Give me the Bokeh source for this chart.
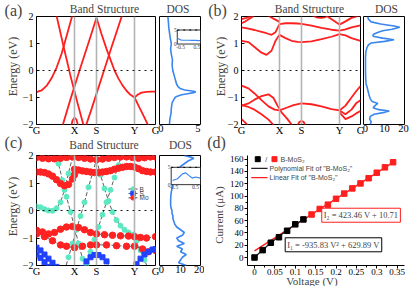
import numpy as np
from bokeh.plotting import figure
from bokeh.layouts import row, column
from bokeh.models import Span, Label, FixedTicker, CustomJSTickFormatter, Range1d
from bokeh.embed import file_html
from bokeh.resources import INLINE

SERIF = "Liberation Serif"
SANS = "Liberation Sans"

K_TICKS = [0, 38, 60, 98, 119]
K_LABELS = ["G", "X", "S", "Y", "G"]
E_TICKS = [-2, -1, 0, 1, 2]

# ---------------- panel (a): band lines (k along path, E in eV)
A1_K = [0, 5, 10, 15, 20, 25, 28, 31, 34, 37]
A1_E = [-0.8, -0.74, -0.57, -0.29, 0.1, 0.61, 1.0, 1.4, 1.8, 2.2]
A2_K = [19, 27, 34, 41, 49]
A2_E = [2.2, 0.9, -0.2, -1.2, -2.3]
A3_K = [24, 34, 43, 53, 60]
A3_E = [-2.3, -1.06, 0.0, 1.14, 1.95]
A4_K = [60, 65, 70, 75, 78, 82, 86, 90, 94, 98]
A4_E = [1.95, 1.35, 0.8, 0.3, 0.0, -0.3, -0.55, -0.75, -0.9, -1.0]
A5_K = [98, 101, 105, 110, 115, 119]
A5_E = [-1.0, -0.9, -0.82, -0.79, -0.78, -0.78]
A6_K = [98, 102, 106, 110, 114]
A6_E = [-1.0, -1.3, -1.6, -1.9, -2.2]
A7_K = [48, 55, 65, 75, 87]
A7_E = [-2.2, -1.43, -0.29, 0.86, 2.2]
A8_K = [34, 36, 38, 40, 42]
A8_E = [-2.2, -1.85, -1.75, -1.82, -2.1]

A_DOS_E = [-2.0, -1.8, -1.6, -1.4, -1.2, -1.1, -1.0, -0.95, -0.9, -0.86, -0.82, -0.79, -0.76,
           -0.72, -0.67, -0.6, -0.5, -0.4, -0.3, -0.2, -0.1, 0.0, 0.2, 0.4, 0.6, 0.8, 1.0,
           1.2, 1.4, 1.6, 1.8, 2.0]
A_DOS = [1.15, 1.2, 1.35, 1.4, 1.5, 1.7, 1.9, 2.2, 2.8, 3.6, 4.4, 4.7, 4.2, 3.2, 2.6, 2.3,
         2.1, 2.0, 1.9, 1.8, 1.7, 1.6, 1.5, 1.55, 1.4, 1.3, 1.4, 1.25, 1.15, 1.05, 1.0, 0.93]
A_INSET_X = [-0.7, -0.6, -0.5, -0.4, -0.2, 0.0, 0.2, 0.4, 0.6, 0.7]
A_INSET_Y = [2.1, 1.8, 1.5, 1.4, 1.35, 1.35, 1.3, 1.3, 1.25, 1.2]

# ---------------- panel (b)
B_C1_K = [0, 7, 13, 20, 25, 30, 34, 38, 44, 50, 56, 60, 70, 80, 90, 98, 104, 110, 119]
B_C1_E = [1.1, 1.05, 0.87, 0.66, 0.58, 0.73, 1.1, 1.32, 1.2, 1.1, 1.06, 1.05, 1.08, 1.16,
          1.25, 1.35, 1.3, 1.2, 1.1]
B_C2_K = [0, 7, 13, 20, 25, 30, 34, 38, 44, 50, 56, 60, 70, 80, 90, 98, 104, 110, 119]
B_C2_E = [1.6, 1.55, 1.5, 1.43, 1.38, 1.32, 1.42, 1.72, 1.75, 1.75, 1.74, 1.73, 1.66, 1.58,
          1.51, 1.48, 1.52, 1.6, 1.67]
B_C3_K = [0, 5, 10, 15, 20, 26, 32, 38]
B_C3_E = [1.9, 1.95, 2.02, 2.1, 2.15, 2.05, 1.92, 1.8]
B_C4_K = [0, 4, 8, 12, 16]
B_C4_E = [1.75, 1.82, 1.92, 2.02, 2.12]
B_C5_K = [80, 86, 92, 98, 104, 110, 119]
B_C5_E = [2.15, 2.0, 1.85, 1.7, 1.82, 1.95, 2.05]
B_C6_K = [68, 72, 76, 80, 84, 88]
B_C6_E = [2.1, 2.02, 1.96, 1.95, 1.98, 2.06]
B_V1_K = [0, 7, 13, 20, 27, 33, 38, 45, 52, 60, 70, 80, 90, 98, 104, 110, 115, 119]
B_V1_E = [-0.56, -0.66, -0.85, -1.1, -1.33, -1.45, -1.48, -1.38, -1.28, -1.22, -1.25, -1.33,
          -1.43, -1.48, -1.3, -1.0, -0.75, -0.58]
B_V2_K = [0, 7, 13, 20, 27, 32, 36, 40, 46, 52]
B_V2_E = [-1.3, -1.22, -1.08, -0.95, -0.88, -1.02, -1.3, -1.55, -1.8, -2.1]
B_V3_K = [0, 7, 13, 20, 27, 34]
B_V3_E = [-1.28, -1.35, -1.45, -1.62, -1.82, -2.1]
B_V4_K = [0, 3, 6, 9]
B_V4_E = [-1.8, -1.9, -2.02, -2.15]
B_V5_K = [55, 58, 60, 62, 65]
B_V5_E = [-2.1, -1.9, -1.87, -1.9, -2.1]
B_V6_K = [98, 104, 110, 115, 119]
B_V6_E = [-1.48, -1.62, -1.45, -1.2, -1.1]
B_V7_K = [98, 104, 110, 115, 119]
B_V7_E = [-1.55, -1.8, -1.7, -1.58, -1.5]

B_DOS_E = [-2.0, -1.9, -1.8, -1.7, -1.62, -1.55, -1.5, -1.45, -1.38, -1.3, -1.22, -1.15, -1.05,
           -0.9, -0.75, -0.6, -0.5, -0.3, 0.0, 0.3, 0.5, 0.7, 0.85, 0.95, 1.02, 1.08, 1.14,
           1.2, 1.27, 1.33, 1.4, 1.47, 1.53, 1.6, 1.65, 1.72, 1.8, 1.9, 2.0]
B_DOS = [2.5, 3.0, 2.2, 2.5, 4.5, 10.0, 12.5, 7.0, 4.0, 5.0, 6.5, 3.5, 2.5, 1.8, 1.3, 0.8, 0.3,
         0.1, 0.0, 0.0, 0.0, 0.2, 0.8, 1.5, 3.0, 10.0, 15.0, 9.0, 4.0, 4.0, 6.0, 9.0, 14.0,
         18.0, 15.0, 8.0, 3.0, 1.5, 1.2]

# ---------------- panel (c): projected bands (B, S, Mo character)
C_B1_K = [0, 4, 8, 12, 16, 20, 24, 28, 32, 36]
C_B1_E = [0.15, 0.12, 0.05, 0.0, -0.01, 0.08, 0.3, 0.75, 1.35, 1.95]
C_B2_K = [18, 22, 26, 30, 34, 38, 42, 46, 50]
C_B2_E = [2.3, 1.7, 1.1, 0.5, -0.05, -0.6, -1.2, -1.75, -2.3]
C_B3_K = [28, 32, 36, 40, 44, 48, 52, 56, 60]
C_B3_E = [-2.2, -1.7, -1.2, -0.7, -0.2, 0.3, 0.85, 1.35, 1.85]
C_B4_K = [60, 64, 68, 72, 76, 80, 84, 88, 92, 97]
C_B4_E = [1.85, 1.3, 0.8, 0.35, -0.05, -0.35, -0.55, -0.7, -0.8, -0.88]
C_B5_K = [46, 50, 54, 58, 62, 66, 70, 74, 78, 82, 86]
C_B5_E = [-2.4, -1.95, -1.5, -1.05, -0.6, -0.15, 0.3, 0.75, 1.2, 1.65, 2.1]
C_B6_K = [97, 100, 104, 108, 112]
C_B6_E = [-0.88, -1.1, -1.45, -1.8, -2.15]
C_M1_K = [0, 4, 8, 12, 16, 20, 24, 28, 32, 36, 38]
C_M1_E = [1.4, 1.4, 1.38, 1.33, 1.25, 1.12, 0.98, 0.9, 0.95, 1.15, 1.3]
C_M2_K = [38, 42, 46, 50, 54, 58, 62, 66, 70, 74, 78, 82, 86, 90, 94, 98, 102, 106, 110, 114, 119]
C_M2_E = [1.5, 1.47, 1.44, 1.42, 1.4, 1.38, 1.38, 1.4, 1.42, 1.45, 1.5, 1.54, 1.57, 1.6, 1.6,
          1.58, 1.52, 1.45, 1.42, 1.4, 1.4]
C_M3_K = [0, 6, 12, 18, 24, 30, 36, 42, 48, 54, 60, 66, 72, 78, 84, 90, 96, 102, 108, 114, 119]
C_M3_E = [1.93, 1.9, 1.88, 1.88, 1.9, 1.93, 1.95, 1.93, 1.9, 1.87, 1.85, 1.87, 1.9, 1.93, 1.95,
          1.95, 1.93, 1.9, 1.92, 1.95, 1.95]
C_M4_K = [0, 6, 12, 18, 24, 30, 36, 42, 48, 54, 60, 68, 76, 84, 92, 98, 104, 110, 119]
C_M4_E = [-0.72, -0.78, -0.85, -0.8, -0.68, -0.6, -0.58, -0.62, -0.7, -0.8, -0.85, -0.88, -0.9,
          -0.92, -0.93, -0.95, -0.98, -1.0, -0.95]
C_M5_K = [0, 8, 16, 24, 30, 38, 46, 54, 60, 70, 80, 90, 98, 106, 112, 119]
C_M5_E = [-0.85, -0.95, -1.1, -1.25, -1.3, -1.35, -1.3, -1.25, -1.25, -1.25, -1.28, -1.3, -1.3,
          -1.4, -1.5, -1.45]
C_S1_K = [0, 4, 8, 12, 16, 20]
C_S1_E = [-1.35, -1.45, -1.6, -1.75, -1.9, -2.05]
C_S2_K = [0, 4, 8, 12]
C_S2_E = [-1.6, -1.72, -1.88, -2.05]
C_S3_K = [46, 50, 54, 58, 62, 66, 70, 74]
C_S3_E = [-2.1, -1.85, -1.7, -1.62, -1.62, -1.7, -1.85, -2.1]
C_S4_K = [100, 104, 108, 112, 116, 119]
C_S4_E = [-1.95, -1.75, -1.6, -1.5, -1.42, -1.4]

C_DOS_E = [-2.0, -1.9, -1.8, -1.7, -1.6, -1.5, -1.4, -1.3, -1.2, -1.1, -1.0, -0.9, -0.8, -0.7,
           -0.6, -0.5, -0.4, -0.3, -0.2, -0.1, 0.0, 0.1, 0.2, 0.4, 0.6, 0.8, 1.0, 1.2, 1.3, 1.4,
           1.5, 1.6, 1.7, 1.8, 1.9, 1.95, 2.0]
C_DOS = [13, 9, 10, 11, 13, 10, 11, 8, 12, 9, 8, 11, 12, 10, 8, 7, 6.5, 6, 6, 5.5, 5.5, 5, 4.8,
         4.8, 5, 5.5, 6, 7, 8, 8.5, 9, 10, 12, 14, 17, 15, 12]
C_INSET_X = [-0.56, -0.33, -0.1, 0.05, 0.2, 0.35, 0.5, 0.73]
C_INSET_Y = [1.2, 1.7, 3.1, 3.4, 2.6, 1.9, 2.2, 1.9]

# ---------------- panel (d): I-V
V_BLACK = [0.0, 0.02, 0.04, 0.06, 0.08, 0.10, 0.12]
I_BLACK = [0.0, 12.0, 24.0, 33.0, 43.5, 54.0, 62.0]
V_RED = [0.14, 0.16, 0.18, 0.20, 0.22, 0.24, 0.26, 0.28, 0.30, 0.32, 0.34]
I_RED = [70.0, 79.0, 86.0, 95.5, 104.0, 112.5, 120.6, 129.0, 138.0, 146.7, 155.0]
LIN_SLOPE, LIN_ICPT = 423.46, 10.71
POLY_A2, POLY_A1 = -935.83, 629.89
V_TICKS = [0, 0.05, 0.1, 0.15, 0.2, 0.25, 0.3, 0.35]
I_TICKS = [0, 20, 40, 60, 80, 100, 120, 140, 160]

RED = "#ff1f1f"
DOSBLUE = "#3a86f0"
AQUA = "#5ee8c2"
SBLUE = "#2142ff"
MORED = "#ff2222"


def base(p):
    p.border_fill_alpha = 0
    p.background_fill_color = "white"
    p.outline_line_color = "black"
    p.outline_line_width = 1
    p.xgrid.visible = False
    p.ygrid.visible = False
    for ax in p.axis:
        ax.major_label_text_font = SERIF
        ax.major_label_text_font_size = "10px"
        ax.major_label_text_color = "black"
        ax.axis_line_color = None
        ax.minor_tick_line_color = None
        ax.minor_tick_in = 0
        ax.minor_tick_out = 0


kmap = "{" + ",".join(f"{k}:'{l}'" for k, l in zip(K_TICKS, K_LABELS)) + "}"


def band_fig(width, height, bl, bt, bb):
    p = figure(width=width, height=height, x_range=Range1d(0, 119), y_range=Range1d(-2, 2),
               output_backend="svg", toolbar_location=None,
               min_border_left=bl, min_border_right=8,
               min_border_top=bt, min_border_bottom=bb)
    base(p)
    p.xaxis.ticker = FixedTicker(ticks=K_TICKS)
    p.xaxis.formatter = CustomJSTickFormatter(code=f"const m={kmap}; return (tick in m) ? m[tick] : '';")
    p.xaxis.major_tick_in = 0
    p.xaxis.major_tick_out = 0
    p.xaxis.major_label_standoff = 0
    p.xaxis.major_label_text_font_size = "10.5px"
    p.yaxis.ticker = FixedTicker(ticks=E_TICKS)
    p.yaxis.major_tick_in = 3
    p.yaxis.major_tick_out = 0
    p.yaxis.major_label_standoff = 3
    for k in K_TICKS[1:-1]:
        p.add_layout(Span(location=k, dimension="height", line_color="#b4b4b4", line_width=1.6))
    p.add_layout(Span(location=0, dimension="width", line_color="black", line_width=0.9,
                      line_dash="dotted"))
    return p


def dos_fig(width, height, bt, bb, xr, ticks, bl, br):
    p = figure(width=width, height=height, x_range=Range1d(*xr), y_range=Range1d(-2, 2),
               output_backend="svg", toolbar_location=None,
               min_border_left=bl, min_border_right=br, min_border_top=bt, min_border_bottom=bb)
    base(p)
    p.yaxis.visible = False
    p.xaxis.ticker = FixedTicker(ticks=ticks)
    p.xaxis.major_tick_in = 0
    p.xaxis.major_tick_out = 0
    p.xaxis.major_label_standoff = 0
    p.xaxis.major_label_text_font_size = "10.5px"
    return p


def add_inset(p, xs, ys, box, xlim, ylim):
    # box = (x0, x1, y0, y1) in host data coords; xlim/ylim: inset data limits
    x0, x1, y0, y1 = box
    sx = (x1 - x0) / (xlim[1] - xlim[0])
    sy = (y1 - y0) / (ylim[1] - ylim[0])
    mx = [x0 + (v - xlim[0]) * sx for v in xs]
    my = [y0 + (v - ylim[0]) * sy for v in ys]
    p.quad(left=[x0], right=[x1], bottom=[y0], top=[y1], fill_color="white",
           line_color="black", line_width=0.8)
    p.line([x0, x1], [y1, y1], line_color="black", line_dash="dotted", line_width=1)
    p.line(mx, my, line_color=DOSBLUE, line_width=1.2)
    for t in [0, 5]:
        p.add_layout(Label(x=x0 - 0.02 * (xlim[1] - xlim[0]) * sx, y=y0 + (t - ylim[0]) * sy,
                           text=str(t), text_font=SERIF, text_font_size="5.5px",
                           text_align="right", text_baseline="middle"))
    for t in [-0.5, 0.5]:
        p.add_layout(Label(x=x0 + (t - xlim[0]) * sx, y=y0 - 0.03, text=str(t), text_font=SERIF,
                           text_font_size="5.5px", text_align="center", text_baseline="top"))


# ================= (a)
pa = band_fig(163, 143, 36, 16, 19)
for k, e in [(A1_K, A1_E), (A2_K, A2_E), (A3_K, A3_E), (A4_K, A4_E), (A5_K, A5_E),
             (A6_K, A6_E), (A7_K, A7_E), (A8_K, A8_E)]:
    pa.line(k, e, line_color=RED, line_width=1.8)

pad = dos_fig(47, 143, 16, 19, (-0.2, 5.34), [0, 5], 2, 4)
pad.margin = (0, 0, 0, -6)
pad.line(A_DOS, A_DOS_E, line_color=DOSBLUE, line_width=1.6)
add_inset(pad, A_INSET_X, A_INSET_Y, (2.2, 5.34, 0.98, 1.5), (-0.7, 0.72), (0, 5))

# ================= (b)
pb = band_fig(164, 143, 37, 16, 19)
for k, e in [(B_C1_K, B_C1_E), (B_C2_K, B_C2_E), (B_C3_K, B_C3_E), (B_C4_K, B_C4_E),
             (B_C5_K, B_C5_E), (B_C6_K, B_C6_E), (B_V1_K, B_V1_E), (B_V2_K, B_V2_E),
             (B_V3_K, B_V3_E), (B_V4_K, B_V4_E), (B_V5_K, B_V5_E), (B_V6_K, B_V6_E),
             (B_V7_K, B_V7_E)]:
    pb.line(k, e, line_color=RED, line_width=1.8)

pbd = dos_fig(47, 143, 16, 19, (-1.05, 20.5), [0, 10, 20], 1, 5)
pbd.margin = (0, 0, 0, -6)
pbd.line(B_DOS, B_DOS_E, line_color=DOSBLUE, line_width=1.6)

# ================= (c)
pc = band_fig(163, 153, 36, 20, 21)
pc.margin = (-10, 0, 0, 0)
bands_c = [
    (C_B1_K, C_B1_E, "B"), (C_B2_K, C_B2_E, "B"), (C_B3_K, C_B3_E, "B"), (C_B4_K, C_B4_E, "B"),
    (C_B5_K, C_B5_E, "B"), (C_B6_K, C_B6_E, "B"),
    (C_M1_K, C_M1_E, "Mo"), (C_M2_K, C_M2_E, "Mo"), (C_M3_K, C_M3_E, "Mo"),
    (C_M4_K, C_M4_E, "Mo"), (C_M5_K, C_M5_E, "Mo"),
    (C_S1_K, C_S1_E, "S"), (C_S2_K, C_S2_E, "S"), (C_S3_K, C_S3_E, "S"), (C_S4_K, C_S4_E, "S"),
]
style_c = {"B": (AQUA, "circle", 5), "S": (SBLUE, "square", 5), "Mo": (MORED, "circle", 6.5)}
for k, e, ch in bands_c:
    pc.line(k, e, line_color="#333333", line_width=0.8, line_dash="4 2")
for k, e, ch in bands_c:
    col, mk, sz = style_c[ch]
    pc.scatter(k, e, marker=mk, size=sz, fill_color=col, line_color=col)
for i, ch in enumerate(["B", "S", "Mo"]):
    col, mk, sz = style_c[ch]
    yy = 0.78 - 0.16 * i
    pc.line([92, 101], [yy, yy], line_color="#222222", line_width=0.8)
    pc.scatter([96.5], [yy], marker=mk, size=4.5, fill_color=col, line_color=col)
    pc.add_layout(Label(x=103, y=yy, text=ch, text_font=SANS, text_font_size="6.5px",
                        text_baseline="middle"))

pcd = dos_fig(47, 153, 20, 21, (-1.05, 20.5), [0, 10, 20], 2, 4)
pcd.margin = (-10, 0, 0, -6)
pcd.line(C_DOS, C_DOS_E, line_color=DOSBLUE, line_width=1.6)
add_inset(pcd, C_INSET_X, C_INSET_Y, (5.1, 20.5, 0.94, 1.57), (-0.62, 0.73), (0, 5))

# ================= (d)
pd_ = figure(width=205, height=153, x_range=Range1d(-0.0172, 0.368), y_range=Range1d(-13, 166),
             output_backend="svg", toolbar_location=None,
             min_border_left=43, min_border_right=5, min_border_top=22, min_border_bottom=21)
pd_.margin = (-10, 0, 0, 0)
base(pd_)
pd_.outline_line_color = None
for ax in pd_.axis:
    ax.axis_line_color = "black"
    ax.axis_line_width = 1
    ax.major_tick_in = 0
    ax.major_tick_out = 3
    ax.minor_tick_line_color = "black"
    ax.minor_tick_in = 0
    ax.minor_tick_out = 2
    ax.major_label_text_font_size = "9px"
pd_.xaxis.major_label_standoff = 0
pd_.yaxis.major_label_standoff = 1
pd_.xaxis.ticker = FixedTicker(ticks=V_TICKS, minor_ticks=[0.025, 0.075, 0.125, 0.175, 0.225,
                                                          0.275, 0.325])
pd_.xaxis.formatter = CustomJSTickFormatter(code="return String(parseFloat(tick.toFixed(2)));")
pd_.yaxis.ticker = FixedTicker(ticks=I_TICKS, minor_ticks=[10, 30, 50, 70, 90, 110, 130, 150])

v_lin = np.array([0.0, max(V_RED)])
pd_.line(v_lin, LIN_SLOPE * v_lin + LIN_ICPT, line_color=RED, line_width=1.5)
v_poly = np.linspace(0, max(V_BLACK), 30)
pd_.line(v_poly, POLY_A2 * v_poly ** 2 + POLY_A1 * v_poly, line_color="#222222", line_width=1.3)
pd_.scatter(V_BLACK, I_BLACK, marker="square", size=5.5, fill_color="black", line_color="black")
pd_.scatter(V_RED, I_RED, marker="square", size=5.5, fill_color=RED, line_color=RED)

pd_.scatter([0.008], [160], marker="square", size=5, fill_color="black", line_color="black")
pd_.add_layout(Label(x=0.029, y=160, text="/", text_font=SANS, text_font_size="7px",
                     text_align="center", text_baseline="middle"))
pd_.scatter([0.049], [160], marker="square", size=5, fill_color=RED, line_color=RED)
pd_.add_layout(Label(x=0.064, y=160, text="B-MoS\u2082", text_font=SANS, text_font_size="7px",
                     text_baseline="middle"))
pd_.line([-0.008, 0.032], [145, 145], line_color="#222222", line_width=1.2)
pd_.add_layout(Label(x=0.037, y=145, text="Polynomial Fit of \"B-MoS\u2082\"", text_font=SANS,
                     text_font_size="7px", text_baseline="middle"))
pd_.line([-0.008, 0.032], [130, 130], line_color=RED, line_width=1.2)
pd_.add_layout(Label(x=0.037, y=130, text="Linear Fit of \"B-MoS\u2082\"", text_font=SANS,
                     text_font_size="7px", text_baseline="middle"))

pd_.add_layout(Label(x=0.165, y=68.8, text="I\u2082 = 423.46 V + 10.71", text_font=SERIF,
                     text_font_size="8.5px", text_baseline="middle",
                     border_line_color=RED, border_line_width=1, background_fill_color="white",
                     padding=2))
pd_.add_layout(Label(x=0.0753, y=20.7, text="I\u2081 = -935.83 V\u00b2 + 629.89 V",
                     text_font=SERIF, text_font_size="8.5px", text_baseline="middle",
                     border_line_color="black", border_line_width=1,
                     background_fill_color="white", padding=2))

# ================= overlay for texts outside the plot frames (page pixel coordinates)
ov = figure(width=409, height=286, x_range=Range1d(0, 409), y_range=Range1d(286, 0),
            output_backend="svg", toolbar_location=None, x_axis_type=None, y_axis_type=None,
            min_border_left=0, min_border_right=0, min_border_top=0, min_border_bottom=0)
ov.background_fill_alpha = 0
ov.border_fill_alpha = 0
ov.outline_line_color = None
ov.margin = (-286, 0, 0, 0)
PANEL_TAGS = [("(a)", 13, 10), ("(b)", 217, 10), ("(c)", 13, 142), ("(d)", 216, 142)]
TITLES = [("Band Structure", 104, 8.5), ("DOS", 177.5, 8.5), ("Band Structure", 309, 8.5),
          ("DOS", 386, 8.5), ("Band Structure", 103.5, 144), ("DOS", 180, 144)]
AXIS_TITLES = [("Energy (eV)", 12.5, 66, 12), ("Energy (eV)", 220, 66, 12),
               ("Energy (eV)", 12.5, 206, 12), ("Current (\u03bcA)", 218.5, 214.5, 11)]
for t, x, y in PANEL_TAGS:
    ov.add_layout(Label(x=x, y=y, text=t, text_font=SERIF, text_font_size="16px",
                        text_align="center", text_baseline="middle"))
for t, x, y in TITLES:
    ov.add_layout(Label(x=x, y=y, text=t, text_font=SERIF, text_font_size="11.5px",
                        text_align="center", text_baseline="middle"))
for t, x, y, fs in AXIS_TITLES:
    ov.add_layout(Label(x=x, y=y, text=t, text_font=SERIF, text_font_size=f"{fs}px",
                        text_align="center", text_baseline="middle", angle=np.pi / 2))
ov.add_layout(Label(x=311.5, y=280, text="Voltage (V)", text_font=SERIF, text_font_size="11px",
                    text_align="center", text_baseline="middle"))

layout = column(row(pa, pad, pb, pbd), row(pc, pcd, pd_), ov)

open("out.html", "w").write(file_html(layout, INLINE))
